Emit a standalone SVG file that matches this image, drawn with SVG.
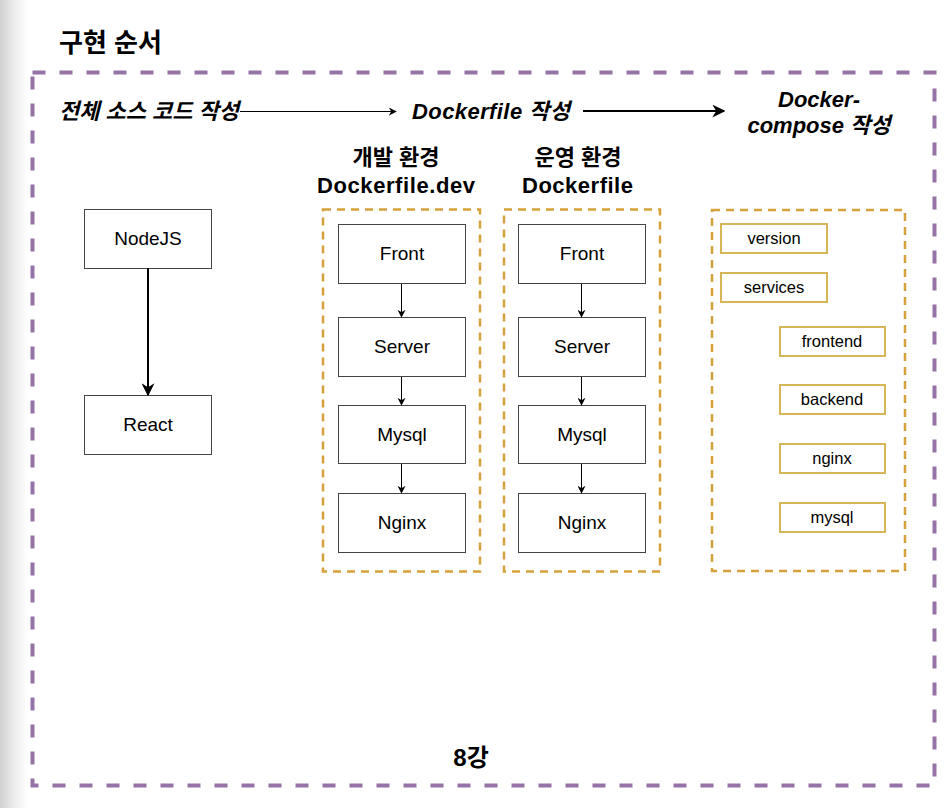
<svg xmlns="http://www.w3.org/2000/svg" width="952" height="808" viewBox="0 0 952 808">
<defs>
<linearGradient id="shade" x1="0" y1="0" x2="1" y2="0">
<stop offset="0" stop-color="#cfcfcf"/>
<stop offset="0.5" stop-color="#ececec"/>
<stop offset="1" stop-color="#ffffff"/>
</linearGradient>
<marker id="ahs" viewBox="0 0 10 10" refX="9" refY="5" markerWidth="8" markerHeight="8" markerUnits="userSpaceOnUse" orient="auto">
<path d="M0,0 L10,5 L0,10 L3,5 z" fill="#000"/>
</marker>
<marker id="ahb" viewBox="0 0 10 10" refX="9" refY="5" markerWidth="13" markerHeight="13" markerUnits="userSpaceOnUse" orient="auto">
<path d="M0,0 L10,5 L0,10 L3,5 z" fill="#000"/>
</marker>
</defs>
<style>
text{font-family:"Liberation Sans","Noto Sans CJK KR",sans-serif;fill:#000}
.node{fill:#fff;stroke:#444;stroke-width:1}
.nt{font-size:19px;text-anchor:middle}
.yel{fill:#fff;stroke:#d6b656;stroke-width:2}
.yt{font-size:16.5px;text-anchor:middle}
.gold{fill:none;stroke:#d6a13a;stroke-width:2.5;stroke-dasharray:8 6}
.head{font-size:22px;font-weight:bold;text-anchor:middle}
.headl{font-size:22px;font-weight:bold;text-anchor:start}
.step{font-size:22px;font-weight:bold;font-style:italic}
.c{fill:none;stroke:#000}
</style>
<rect x="0" y="0" width="952" height="808" fill="#fff"/>
<rect x="0" y="0" width="28" height="808" fill="url(#shade)"/>
<text x="59" y="52" font-size="26" font-weight="bold">구현 순서</text>
<g id="frame">
<rect x="32.5" y="72.5" width="902" height="713" fill="none" stroke="#9673a6" stroke-width="4" stroke-dasharray="13 14"/>
<text x="471" y="766" font-size="24" font-weight="bold" text-anchor="middle">8강</text>
</g>
<g id="steps">
<text class="step" x="59" y="119" textLength="180">전체 소스 코드 작성</text>
<text class="step" x="412" y="119" textLength="158">Dockerfile 작성</text>
<text class="step" x="819" y="107" text-anchor="middle">Docker-</text>
<text class="step" x="819" y="133" text-anchor="middle">compose 작성</text>
</g>
<g id="dev">
<text class="head" x="396" y="165">개발 환경</text>
<text class="headl" x="317" y="193" textLength="158">Dockerfile.dev</text>
<rect class="gold" x="323" y="209.5" width="157" height="362"/>
</g>
<g id="prod">
<text class="head" x="578" y="165">운영 환경</text>
<text class="headl" x="522" y="193" textLength="111">Dockerfile</text>
<rect class="gold" x="504" y="209.5" width="156" height="362"/>
</g>
<g id="compose">
<rect class="gold" x="712" y="210" width="193" height="361"/>
</g>
<g id="nodejs"><rect class="node" x="84.5" y="209.5" width="127" height="59"/><text class="nt" x="148" y="245">NodeJS</text></g>
<g id="react"><rect class="node" x="84.5" y="395.5" width="127" height="59"/><text class="nt" x="148" y="431">React</text></g>
<g id="dev-front"><rect class="node" x="338.5" y="224.5" width="127" height="59"/><text class="nt" x="402" y="260">Front</text></g>
<g id="dev-server"><rect class="node" x="338.5" y="317.5" width="127" height="59"/><text class="nt" x="402" y="353">Server</text></g>
<g id="dev-mysql"><rect class="node" x="338.5" y="405.5" width="127" height="58"/><text class="nt" x="402" y="441">Mysql</text></g>
<g id="dev-nginx"><rect class="node" x="338.5" y="493.5" width="127" height="59"/><text class="nt" x="402" y="529">Nginx</text></g>
<g id="prod-front"><rect class="node" x="518.5" y="224.5" width="127" height="59"/><text class="nt" x="582" y="260">Front</text></g>
<g id="prod-server"><rect class="node" x="518.5" y="317.5" width="127" height="59"/><text class="nt" x="582" y="353">Server</text></g>
<g id="prod-mysql"><rect class="node" x="518.5" y="405.5" width="127" height="58"/><text class="nt" x="582" y="441">Mysql</text></g>
<g id="prod-nginx"><rect class="node" x="518.5" y="493.5" width="127" height="59"/><text class="nt" x="582" y="529">Nginx</text></g>
<g id="c-version"><rect class="yel" x="721" y="224" width="106" height="29"/><text class="yt" x="774" y="244">version</text></g>
<g id="c-services"><rect class="yel" x="721" y="273" width="106" height="29"/><text class="yt" x="774" y="293">services</text></g>
<g id="c-frontend"><rect class="yel" x="780" y="327" width="105" height="29"/><text class="yt" x="832" y="347">frontend</text></g>
<g id="c-backend"><rect class="yel" x="780" y="385" width="105" height="29"/><text class="yt" x="832" y="405">backend</text></g>
<g id="c-nginx"><rect class="yel" x="780" y="444" width="105" height="29"/><text class="yt" x="832" y="464">nginx</text></g>
<g id="c-mysql"><rect class="yel" x="780" y="503" width="105" height="29"/><text class="yt" x="832" y="523">mysql</text></g>
<g id="connectors">
<line class="c" x1="240" y1="111.5" x2="396" y2="111.5" stroke-width="1" marker-end="url(#ahs)"/>
<line class="c" x1="583" y1="111" x2="724" y2="111" stroke-width="2" marker-end="url(#ahb)"/>
<line class="c" x1="148" y1="268" x2="148" y2="395" stroke-width="2" marker-end="url(#ahb)"/>
<line class="c" x1="401.5" y1="284" x2="401.5" y2="317" stroke-width="1" marker-end="url(#ahs)"/>
<line class="c" x1="401.5" y1="377" x2="401.5" y2="405" stroke-width="1" marker-end="url(#ahs)"/>
<line class="c" x1="401.5" y1="464" x2="401.5" y2="493" stroke-width="1" marker-end="url(#ahs)"/>
<line class="c" x1="581.5" y1="284" x2="581.5" y2="317" stroke-width="1" marker-end="url(#ahs)"/>
<line class="c" x1="581.5" y1="377" x2="581.5" y2="405" stroke-width="1" marker-end="url(#ahs)"/>
<line class="c" x1="581.5" y1="464" x2="581.5" y2="493" stroke-width="1" marker-end="url(#ahs)"/>
</g>
</svg>
